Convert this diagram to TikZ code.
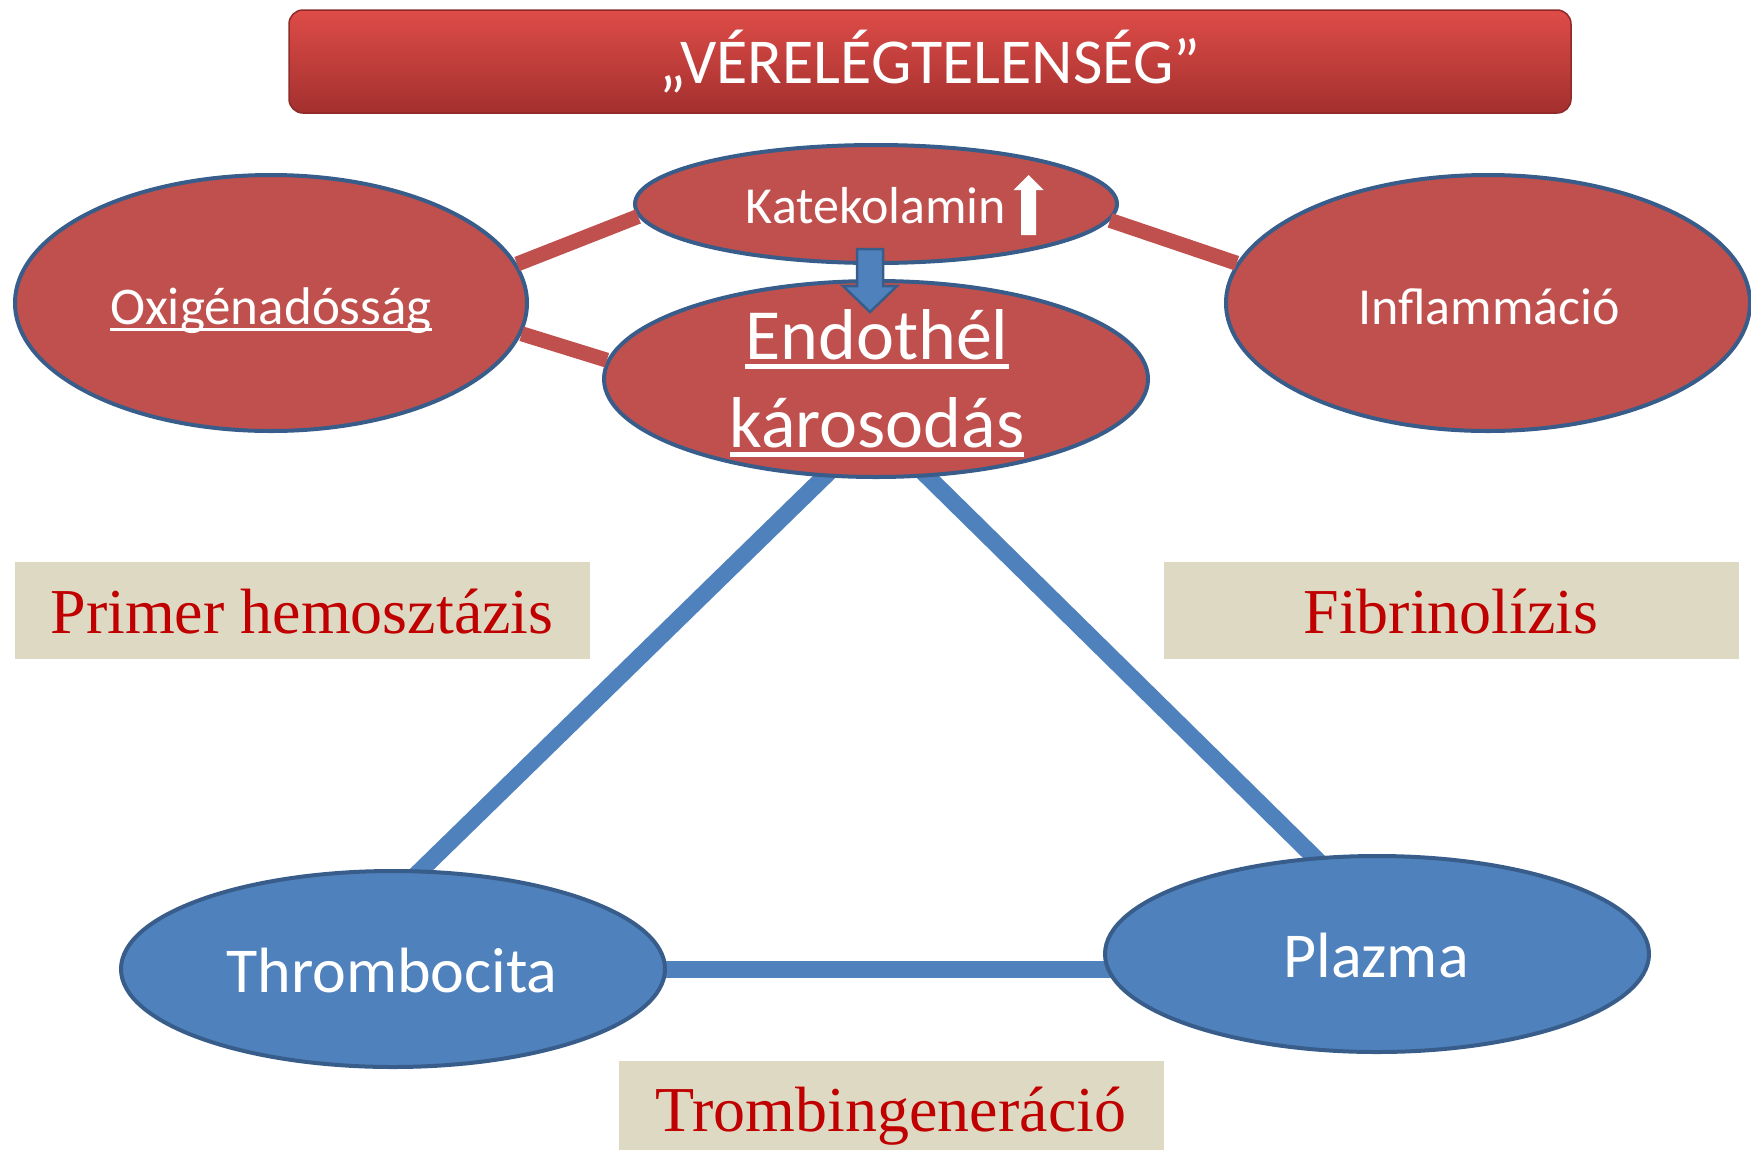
\documentclass[tikz,border=0pt]{standalone}
\usepackage{fontspec}
\setmainfont{Liberation Serif}
\newfontfamily\calib{Carlito}
\newfontfamily\timesr{Liberation Serif}
\usetikzlibrary{shapes.geometric,backgrounds}

\definecolor{cellred}{HTML}{C0504D}
\definecolor{cellblue}{HTML}{4F81BD}
\definecolor{rimblue}{HTML}{385D8A}
\definecolor{tanfill}{HTML}{DDD9C3}
\definecolor{labelred}{HTML}{C00000}
\definecolor{bannertop}{HTML}{DE4C48}
\definecolor{bannerbot}{HTML}{A3302E}
\definecolor{bannerrim}{HTML}{8E2B29}

% word with a flat underline that cuts through descenders
\newsavebox\ulinebox
\newcommand{\ulword}[1]{\sbox\ulinebox{#1}\rlap{\rule[-0.14em]{\wd\ulinebox}{0.065em}}\usebox\ulinebox}

\tikzset{
  blob/.style={ellipse, draw=rimblue, line width=4pt, inner sep=0pt},
  redblob/.style={blob, fill=cellred},
  blueblob/.style={blob, fill=cellblue},
  celltext/.style={text=white, anchor=base, inner sep=0pt},
  tanbox/.style={fill=tanfill, inner sep=0pt},
  tanlabel/.style={text=labelred, anchor=base, inner sep=0pt,
    font=\timesr\fontsize{64}{70}\selectfont},
  redlink/.style={cellred, line width=15pt},
  bluelink/.style={cellblue, line width=17pt, shorten <=-14pt, shorten >=-14pt},
  banner/.style={rounded corners=14pt, top color=bannertop, bottom color=bannerbot,
    draw=bannerrim, line width=1.5pt, text=white, inner sep=0pt}
}

\begin{document}
\begin{tikzpicture}[x=1pt,y=-1pt]
\useasboundingbox (0,0) rectangle (1751,1149);

% title banner
\node[banner, minimum width=1282pt, minimum height=103pt] (title) at (930,61.5)
  {\calib\fontsize{64}{70}\selectfont „VÉRELÉGTELENSÉG”};

% causes (red) and the triad (blue)
\node[redblob, minimum width=512pt, minimum height=256pt] (oxi) at (271,303) {};
\node[redblob, minimum width=482pt, minimum height=118pt] (kate) at (876,204) {};
\node[redblob, minimum width=544pt, minimum height=196pt] (endo) at (876,379) {};
\node[redblob, minimum width=524pt, minimum height=256pt] (infl) at (1488,303) {};
\node[blueblob, minimum width=544pt, minimum height=196pt] (thr) at (393,969) {};
\node[blueblob, minimum width=544pt, minimum height=196pt] (pla) at (1377,954) {};

% red links end on the rims of the ellipses
\draw[redlink] (oxi.9) -- (kate.183);
\draw[redlink] (oxi.-7) -- (endo.176);
\draw[redlink] (kate.-4) -- (infl.171);

% labels of the ellipses
\node[celltext, font=\calib\fontsize{53}{60}\selectfont] (oxitxt) at (271,324) {\ulword{Oxigénadósság}};
\node[celltext, font=\calib\fontsize{52}{60}\selectfont] (katetxt) at (876,223) {Katekolamin};
\node[celltext, font=\calib\fontsize{72}{88}\selectfont] (endotxta) at (877,359) {\ulword{Endothél}};
\node[celltext, font=\calib\fontsize{72}{88}\selectfont] (endotxtb) at (877,447) {\ulword{károsodás}};
\node[celltext, font=\calib\fontsize{52}{60}\selectfont] (infltxt) at (1489,324) {Inflammáció};
\node[celltext, font=\calib\fontsize{64}{72}\selectfont] (thrtxt) at (392,992) {Thrombocita};
\node[celltext, font=\calib\fontsize{64}{72}\selectfont] (platxt) at (1376,977) {Plazma};

% rising arrow after Katekolamin
\fill[white] (1021,235) -- (1036,235) -- (1036,190) -- (1043.5,190) -- (1028.5,175)
  -- (1013.5,190) -- (1021,190) -- cycle;

% block arrow from Katekolamin down to the endothelium
\filldraw[fill=cellblue, draw=rimblue, line width=2.5pt, line join=miter]
  (857,249) -- (883,249) -- (883,286) -- (897,286) -- (870,312) -- (843,286)
  -- (857,286) -- cycle;

% processes
\node[tanbox, minimum width=575pt, minimum height=97pt] (primbox) at (302.5,610.5) {};
\node[tanlabel] (primtxt) at (302,633) {Primer hemosztázis};
\node[tanbox, minimum width=575pt, minimum height=97pt] (fibbox) at (1451.5,610.5) {};
\node[tanlabel] (fibtxt) at (1451,633) {Fibrinolízis};
\node[tanbox, minimum width=545pt, minimum height=96pt] (trombox) at (891.5,1109) {};
\node[tanlabel] (tromtxt) at (891,1131) {Trombingeneráció};

% blue triangle, behind the ellipses
\begin{scope}[on background layer]
  \draw[bluelink] (endo.-118) -- (thr.74);
  \draw[bluelink] (endo.-62) -- (pla.123);
  \draw[bluelink] (thr.center) -- (thr.center -| pla.center);
\end{scope}
\end{tikzpicture}
\end{document}
